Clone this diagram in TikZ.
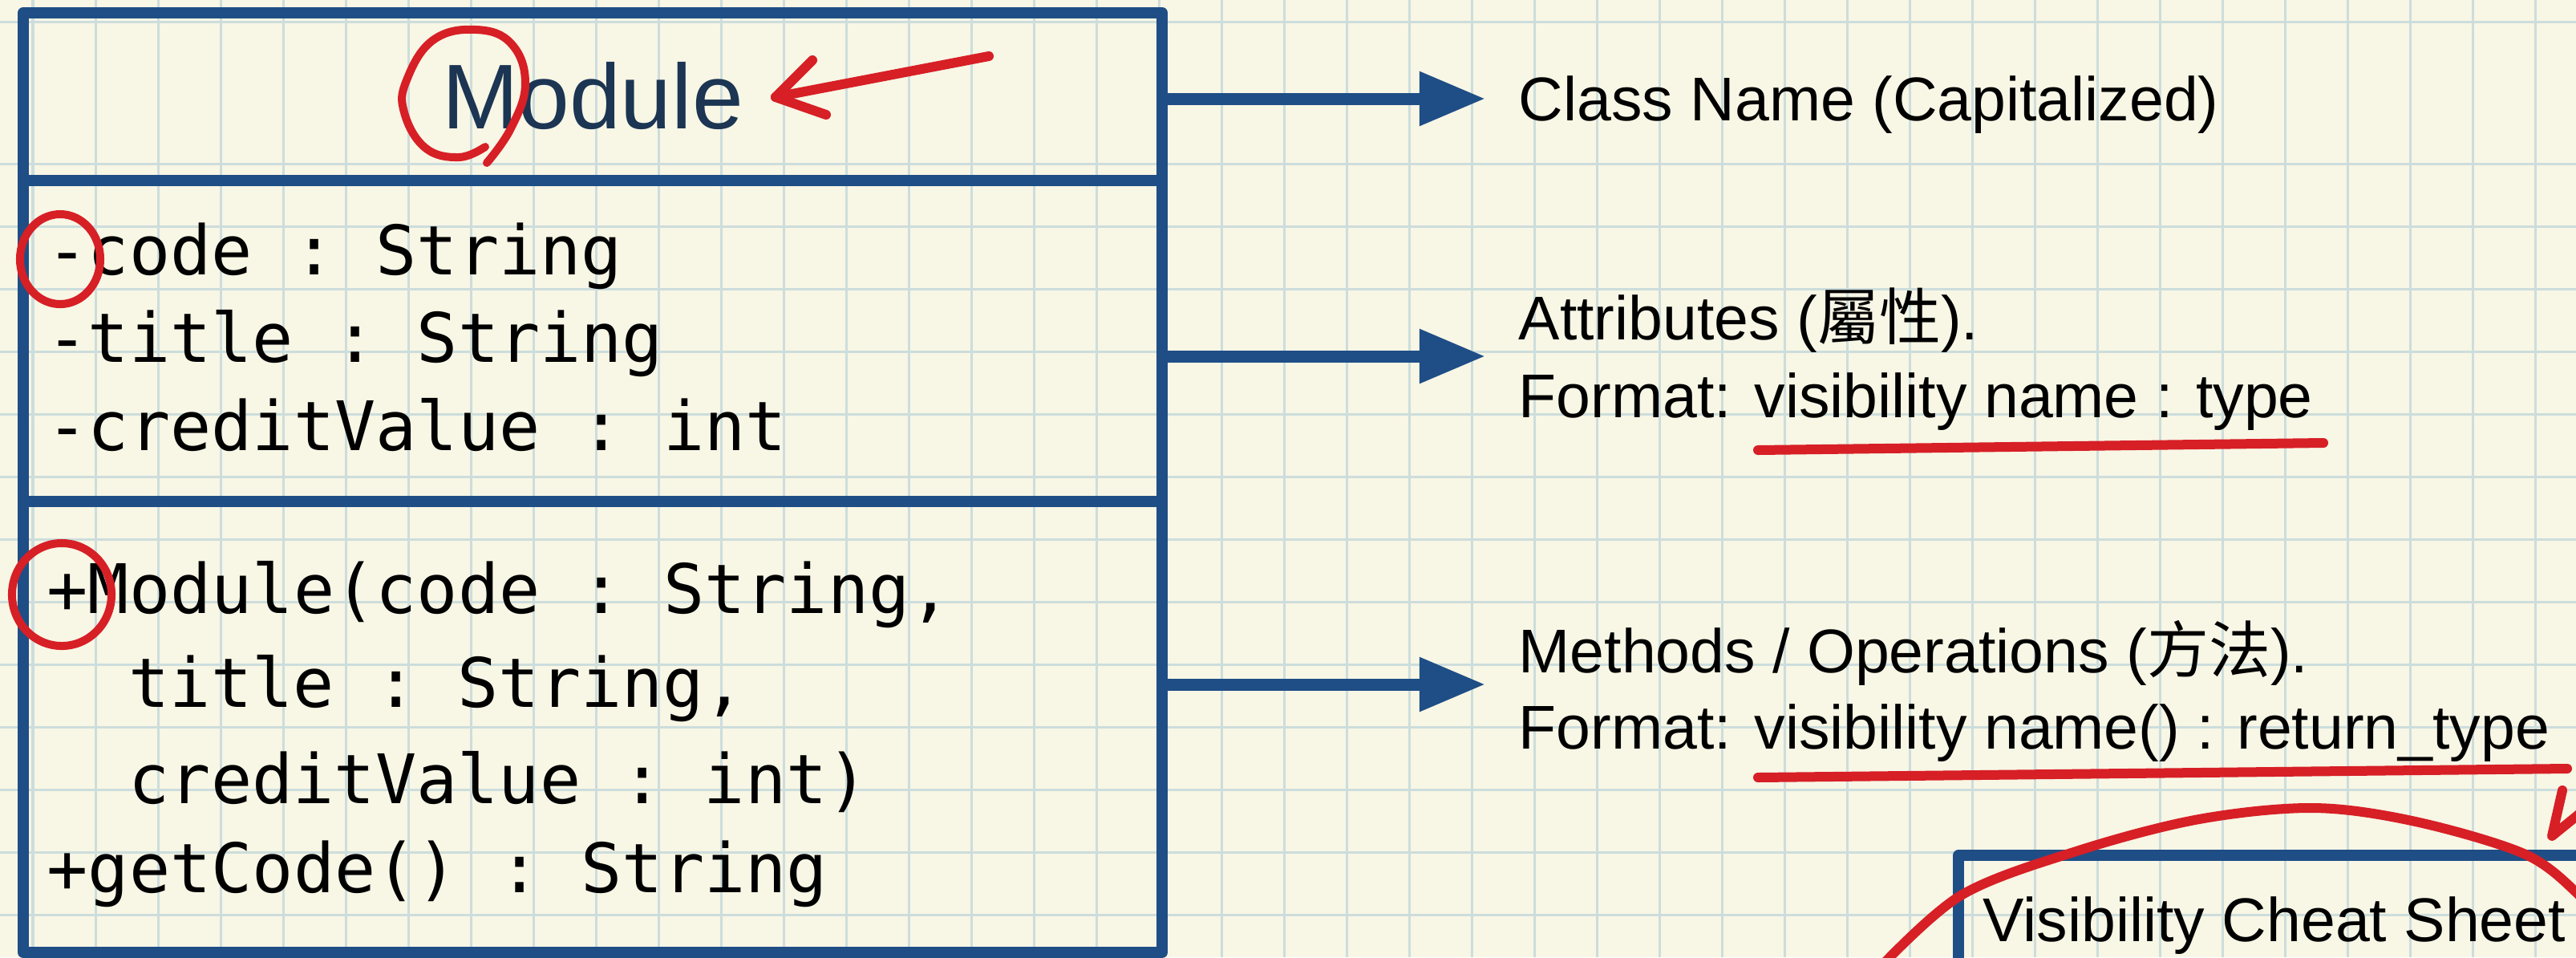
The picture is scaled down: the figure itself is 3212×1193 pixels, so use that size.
\documentclass[tikz,border=0pt]{standalone}
\usepackage{fontspec}
\setmainfont{Liberation Sans}
\setmonofont{DejaVu Sans Mono}
\newfontfamily\cjkfont{Noto Sans CJK TC}
\usetikzlibrary{arrows.meta}
\definecolor{paper}{HTML}{F8F6E5}
\definecolor{gridc}{HTML}{CCDDDC}
\definecolor{umlblue}{HTML}{1F4E86}
\definecolor{navy}{HTML}{1B3553}
\definecolor{pen}{HTML}{D71F26}
\begin{document}
\begin{tikzpicture}[x=0.01cm,y=-0.01cm,
  boxline/.style={umlblue, line width=0.14cm, line join=round},
  pointer/.style={umlblue, line width=0.15cm, -{Triangle[length=0.82cm,width=0.64cm]}},
  pencil/.style={pen, line width=0.12cm, line cap=round, line join=round},
  thinpencil/.style={pen, line width=0.1cm, line cap=round, line join=round},
  mono/.style={anchor=base west, inner sep=0pt, font=\ttfamily\fontsize{24.2}{30}\selectfont},
  note/.style={anchor=base west, inner sep=0pt, font=\fontsize{21.9}{27}\selectfont},
]
\useasboundingbox (0,0) rectangle (3212,1193);
\fill[paper] (0,0) rectangle (3212,1193);
\begin{scope}
\clip (0,0) rectangle (3212,1193);
% grid paper
\foreach \k in {0,...,40} \draw[gridc, line width=0.03cm] ({41+78*\k},0) -- ({41+78*\k},1193);
\foreach \yy in {27,204,282,...,1193} \draw[gridc, line width=0.03cm] (0,\yy) -- (3212,\yy);

% class box
\draw[boxline] (29,16) rectangle (1449,1187);
\draw[boxline] (29,225) -- (1449,225);
\draw[boxline] (29,625) -- (1449,625);

% cheat sheet box
\draw[boxline] (2442,1260) -- (2442,1066) -- (3300,1066);
\node[note] (cheat) at (2472,1173) {Visibility Cheat Sheet};

% class texts
\node[anchor=base, inner sep=0pt, text=navy, font=\fontsize{32.6}{36}\selectfont] (cname) at (739,160) {Module};
\node[mono] (at1) at (58,342) {-code : String};
\node[mono] (at2) at (58,451) {-title : String};
\node[mono] (at3) at (58,561) {-creditValue : int};
\node[mono] (op1) at (58,764) {+Module(code : String,};
\node[mono] (op2) at (160,881) {title : String,};
\node[mono] (op3) at (160,1001) {creditValue : int)};
\node[mono] (op4) at (58,1112) {+getCode() : String};

% explanations
\node[note] (l1) at (1893,150) {Class Name (Capitalized)};
\node[note] (l2a) at (1893,423) {Attributes ({\cjkfont 屬性}).};
\node[note] (l2b) at (1893,520) {Format: visibility name : type};
\node[note] (l3a) at (1893,838) {Methods / Operations ({\cjkfont 方法}).};
\node[note] (l3b) at (1893,933) {Format: visibility name() : return\_type};

% connectors
\coordinate (s1) at (1449,123); \coordinate (e1) at (1852,123);
\coordinate (s2) at (1449,444); \coordinate (e2) at (1852,444);
\coordinate (s3) at (1449,853); \coordinate (e3) at (1852,853);
\draw[pointer] (s1) -- (e1);
\draw[pointer] (s2) -- (e2);
\draw[pointer] (s3) -- (e3);

% red annotations
\draw[pencil] (1233,70) -- (967,121);
\draw[pencil] (1013,75) -- (967,121) -- (1030,143);
\draw[thinpencil] plot[smooth, tension=0.7] coordinates {(607,203) (637,160) (655,105) (638,55) (594,37) (540,50) (507,100) (504,140) (530,184) (572,196) (605,183)};
\draw[thinpencil] (75,323) ellipse [x radius=0.5cm, y radius=0.56cm];
\draw[thinpencil] (77,741) ellipse [x radius=0.62cm, y radius=0.64cm];
\draw[pencil] (2192,561) -- (2897,552);
\draw[pencil] (2192,969) -- (3201,958);
\draw[pencil] plot[smooth, tension=0.55] coordinates {(2340,1210) (2445,1116) (2592,1060) (2742,1021) (2885,1007) (3012,1024) (3147,1064) (3212,1112) (3240,1150)};
\draw[pencil] (3195,985) -- (3182,1042) -- (3240,995);
\end{scope}
\end{tikzpicture}
\end{document}
